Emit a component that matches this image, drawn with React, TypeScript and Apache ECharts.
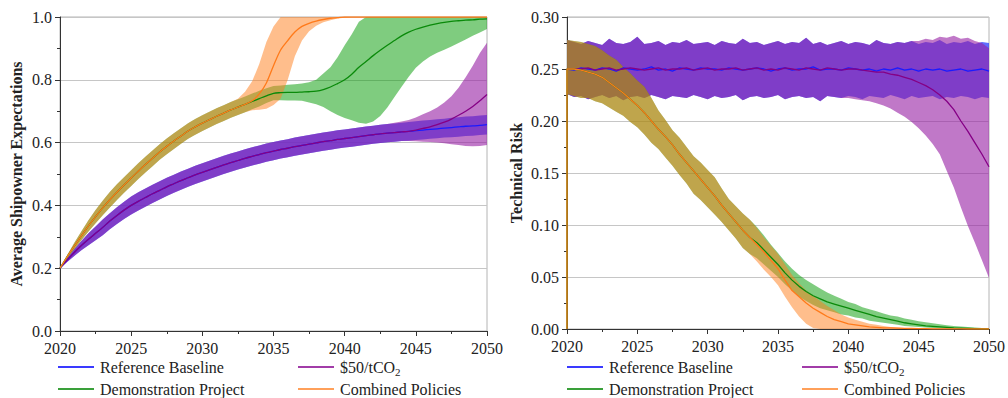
import React, { useEffect, useRef } from 'react';
import * as echarts from 'echarts';

// ---------- categories / names ----------
const BASELINE = 'Reference Baseline';
const CARBON = '$50/tCO2';
const DEMO = 'Demonstration Project';
const COMBINED = 'Combined Policies';
const NAMES = [BASELINE, CARBON, DEMO, COMBINED];

// ---------- x values (years) ----------
const X_L = [
  2020, 2020.5, 2021, 2021.5, 2022, 2022.5, 2023, 2023.5, 2024, 2024.5,
  2025, 2025.5, 2026, 2026.5, 2027, 2027.5, 2028, 2028.5, 2029, 2029.5,
  2030, 2030.5, 2031, 2031.5, 2032, 2032.5, 2033, 2033.5, 2034, 2034.5,
  2035, 2035.5, 2036, 2036.5, 2037, 2037.5, 2038, 2038.5, 2039, 2039.5,
  2040, 2040.5, 2041, 2041.5, 2042, 2042.5, 2043, 2043.5, 2044, 2044.5,
  2045, 2045.5, 2046, 2046.5, 2047, 2047.5, 2048, 2048.5, 2049, 2049.5,
  2050,
];
const X_R = [2020, ...X_L];

// ---------- left panel: Average Shipowner Expectations ----------
const BASE_MEAN_L = [
  0.200, 0.226, 0.250, 0.272, 0.292, 0.311, 0.330, 0.350, 0.368, 0.385,
  0.400, 0.413, 0.425, 0.437, 0.448, 0.459, 0.469, 0.479, 0.488, 0.497,
  0.505, 0.513, 0.521, 0.529, 0.536, 0.543, 0.550, 0.556, 0.562, 0.568,
  0.573, 0.578, 0.582, 0.587, 0.591, 0.595, 0.599, 0.603, 0.606, 0.610,
  0.613, 0.616, 0.619, 0.622, 0.625, 0.628, 0.630, 0.632, 0.634, 0.636,
  0.638, 0.640, 0.642, 0.644, 0.646, 0.648, 0.650, 0.652, 0.653, 0.655,
  0.657,
];
const BASE_HI_L = [
  0.200, 0.232, 0.261, 0.287, 0.311, 0.333, 0.355, 0.375, 0.394, 0.412,
  0.428, 0.442, 0.454, 0.466, 0.477, 0.488, 0.498, 0.508, 0.517, 0.526,
  0.534, 0.542, 0.550, 0.558, 0.565, 0.572, 0.579, 0.585, 0.591, 0.597,
  0.602, 0.607, 0.611, 0.616, 0.620, 0.624, 0.628, 0.632, 0.635, 0.639,
  0.642, 0.645, 0.648, 0.651, 0.654, 0.657, 0.659, 0.661, 0.663, 0.666,
  0.668, 0.670, 0.672, 0.674, 0.676, 0.679, 0.681, 0.683, 0.684, 0.686,
  0.688,
];
const BASE_LO_L = [
  0.200, 0.220, 0.239, 0.257, 0.273, 0.289, 0.305, 0.324, 0.341, 0.357,
  0.371, 0.384, 0.396, 0.408, 0.419, 0.430, 0.440, 0.450, 0.459, 0.468,
  0.476, 0.484, 0.492, 0.500, 0.507, 0.514, 0.521, 0.527, 0.533, 0.539,
  0.544, 0.549, 0.553, 0.558, 0.562, 0.566, 0.570, 0.574, 0.577, 0.581,
  0.584, 0.587, 0.590, 0.593, 0.596, 0.599, 0.601, 0.603, 0.605, 0.606,
  0.608, 0.610, 0.612, 0.614, 0.616, 0.617, 0.619, 0.621, 0.622, 0.624,
  0.626,
];
const CARBON_MEAN_L = [
  0.200, 0.226, 0.250, 0.272, 0.292, 0.311, 0.330, 0.350, 0.368, 0.385,
  0.400, 0.413, 0.425, 0.437, 0.448, 0.459, 0.469, 0.479, 0.488, 0.497,
  0.505, 0.513, 0.521, 0.529, 0.536, 0.543, 0.550, 0.556, 0.562, 0.568,
  0.573, 0.578, 0.582, 0.587, 0.591, 0.595, 0.599, 0.603, 0.606, 0.610,
  0.613, 0.616, 0.619, 0.622, 0.625, 0.628, 0.630, 0.632, 0.634, 0.636,
  0.640, 0.645, 0.650, 0.657, 0.665, 0.675, 0.687, 0.700, 0.715, 0.733,
  0.753,
];
const CARBON_HI_L = [
  0.200, 0.232, 0.261, 0.287, 0.311, 0.333, 0.355, 0.375, 0.394, 0.412,
  0.428, 0.442, 0.454, 0.466, 0.477, 0.488, 0.498, 0.508, 0.517, 0.526,
  0.534, 0.542, 0.550, 0.558, 0.565, 0.572, 0.579, 0.585, 0.591, 0.597,
  0.602, 0.607, 0.611, 0.616, 0.620, 0.624, 0.628, 0.632, 0.635, 0.639,
  0.642, 0.645, 0.648, 0.651, 0.654, 0.657, 0.659, 0.663, 0.667, 0.672,
  0.680, 0.690, 0.700, 0.712, 0.728, 0.748, 0.775, 0.808, 0.845, 0.885,
  0.918,
];
const CARBON_LO_L = [
  0.200, 0.220, 0.239, 0.257, 0.273, 0.289, 0.305, 0.324, 0.341, 0.357,
  0.371, 0.384, 0.396, 0.408, 0.419, 0.430, 0.440, 0.450, 0.459, 0.468,
  0.476, 0.484, 0.492, 0.500, 0.507, 0.514, 0.521, 0.527, 0.533, 0.539,
  0.544, 0.549, 0.553, 0.558, 0.562, 0.566, 0.570, 0.574, 0.577, 0.581,
  0.584, 0.587, 0.590, 0.593, 0.596, 0.599, 0.601, 0.603, 0.605, 0.605,
  0.604, 0.603, 0.602, 0.600, 0.598, 0.595, 0.592, 0.589, 0.588, 0.589,
  0.592,
];
const DEMO_MEAN_L = [
  0.200, 0.236, 0.270, 0.303, 0.335, 0.364, 0.392, 0.418, 0.442, 0.465,
  0.487, 0.509, 0.530, 0.550, 0.570, 0.588, 0.605, 0.621, 0.637, 0.650,
  0.662, 0.673, 0.684, 0.694, 0.704, 0.713, 0.722, 0.731, 0.740, 0.749,
  0.757, 0.759, 0.760, 0.760, 0.761, 0.762, 0.764, 0.769, 0.777, 0.788,
  0.800, 0.818, 0.840, 0.858, 0.877, 0.894, 0.910, 0.925, 0.940, 0.952,
  0.961, 0.968, 0.974, 0.979, 0.983, 0.986, 0.988, 0.990, 0.991, 0.993,
  0.994,
];
const DEMO_HI_L = [
  0.200, 0.241, 0.280, 0.317, 0.353, 0.385, 0.415, 0.443, 0.467, 0.490,
  0.512, 0.534, 0.555, 0.575, 0.595, 0.613, 0.630, 0.646, 0.662, 0.675,
  0.687, 0.698, 0.709, 0.719, 0.729, 0.738, 0.747, 0.756, 0.765, 0.773,
  0.780, 0.782, 0.784, 0.786, 0.788, 0.792, 0.800, 0.820, 0.840, 0.872,
  0.910, 0.945, 0.985, 1.000, 1.000, 1.000, 1.000, 1.000, 1.000, 1.000,
  1.000, 1.000, 1.000, 1.000, 1.000, 1.000, 1.000, 1.000, 1.000, 1.000,
  1.000,
];
const DEMO_LO_L = [
  0.200, 0.231, 0.260, 0.289, 0.317, 0.343, 0.369, 0.393, 0.417, 0.440,
  0.462, 0.484, 0.505, 0.525, 0.545, 0.563, 0.580, 0.596, 0.612, 0.625,
  0.637, 0.648, 0.659, 0.669, 0.679, 0.688, 0.697, 0.706, 0.715, 0.726,
  0.735, 0.735, 0.734, 0.734, 0.733, 0.728, 0.722, 0.713, 0.700, 0.688,
  0.678, 0.671, 0.663, 0.660, 0.667, 0.685, 0.712, 0.745, 0.778, 0.810,
  0.838, 0.858, 0.874, 0.886, 0.896, 0.906, 0.917, 0.928, 0.940, 0.951,
  0.962,
];
const COMBINED_MEAN_L = [
  0.200, 0.236, 0.270, 0.303, 0.335, 0.364, 0.392, 0.418, 0.442, 0.465,
  0.487, 0.509, 0.530, 0.550, 0.570, 0.588, 0.605, 0.621, 0.637, 0.650,
  0.662, 0.673, 0.684, 0.694, 0.704, 0.713, 0.722, 0.733, 0.755, 0.790,
  0.845, 0.895, 0.925, 0.952, 0.970, 0.980, 0.987, 0.992, 0.996, 0.998,
  1.000, 1.000, 1.000, 1.000, 1.000, 1.000, 1.000, 1.000, 1.000, 1.000,
  1.000, 1.000, 1.000, 1.000, 1.000, 1.000, 1.000, 1.000, 1.000, 1.000,
  1.000,
];
const COMBINED_HI_L = [
  0.200, 0.241, 0.280, 0.317, 0.353, 0.385, 0.415, 0.443, 0.467, 0.490,
  0.512, 0.534, 0.555, 0.575, 0.595, 0.613, 0.630, 0.646, 0.662, 0.675,
  0.687, 0.698, 0.709, 0.719, 0.729, 0.740, 0.762, 0.795, 0.850, 0.920,
  0.970, 1.000, 1.000, 1.000, 1.000, 1.000, 1.000, 1.000, 1.000, 1.000,
  1.000, 1.000, 1.000, 1.000, 1.000, 1.000, 1.000, 1.000, 1.000, 1.000,
  1.000, 1.000, 1.000, 1.000, 1.000, 1.000, 1.000, 1.000, 1.000, 1.000,
  1.000,
];
const COMBINED_LO_L = [
  0.200, 0.231, 0.260, 0.289, 0.317, 0.343, 0.369, 0.393, 0.417, 0.440,
  0.462, 0.484, 0.505, 0.525, 0.545, 0.563, 0.580, 0.596, 0.612, 0.625,
  0.637, 0.648, 0.659, 0.669, 0.679, 0.688, 0.697, 0.703, 0.705, 0.708,
  0.720, 0.740, 0.800, 0.875, 0.925, 0.955, 0.972, 0.983, 0.990, 0.995,
  0.998, 1.000, 1.000, 1.000, 1.000, 1.000, 1.000, 1.000, 1.000, 1.000,
  1.000, 1.000, 1.000, 1.000, 1.000, 1.000, 1.000, 1.000, 1.000, 1.000,
  1.000,
];

// ---------- right panel: Technical Risk ----------
const BASE_MEAN_R = [
  0.250,
  0.250, 0.249, 0.251, 0.250, 0.249, 0.251, 0.250, 0.248, 0.251, 0.250,
  0.249, 0.250, 0.252, 0.249, 0.250, 0.248, 0.251, 0.250, 0.249, 0.251,
  0.250, 0.250, 0.249, 0.251, 0.250, 0.249, 0.250, 0.251, 0.250, 0.248,
  0.250, 0.251, 0.249, 0.250, 0.250, 0.252, 0.249, 0.250, 0.250, 0.249,
  0.251, 0.250, 0.249, 0.250, 0.248, 0.250, 0.249, 0.251, 0.249, 0.250,
  0.248, 0.250, 0.249, 0.250, 0.248, 0.249, 0.250, 0.248, 0.249, 0.250,
  0.248,
];
const BASE_HI_R = [
  0.278,
  0.278, 0.276, 0.274, 0.277, 0.275, 0.273, 0.279, 0.275, 0.274, 0.276,
  0.281, 0.274, 0.275, 0.277, 0.273, 0.276, 0.275, 0.278, 0.274, 0.275,
  0.276, 0.273, 0.277, 0.275, 0.274, 0.279, 0.275, 0.276, 0.273, 0.275,
  0.277, 0.274, 0.276, 0.275, 0.280, 0.274, 0.276, 0.273, 0.275, 0.277,
  0.274, 0.276, 0.275, 0.273, 0.278, 0.275, 0.274, 0.276, 0.275, 0.277,
  0.274, 0.276, 0.275, 0.278, 0.274, 0.276, 0.275, 0.277, 0.274, 0.276,
  0.275,
];
const BASE_LO_R = [
  0.226,
  0.226, 0.223, 0.224, 0.221, 0.223, 0.225, 0.222, 0.224, 0.220, 0.223,
  0.224, 0.222, 0.225, 0.223, 0.221, 0.224, 0.223, 0.222, 0.225, 0.223,
  0.221, 0.224, 0.222, 0.223, 0.225, 0.220, 0.223, 0.224, 0.222, 0.223,
  0.225, 0.221, 0.223, 0.224, 0.222, 0.223, 0.219, 0.224, 0.223, 0.222,
  0.224, 0.223, 0.221, 0.224, 0.223, 0.222, 0.225, 0.223, 0.221, 0.224,
  0.222, 0.223, 0.224, 0.221, 0.223, 0.222, 0.224, 0.223, 0.221, 0.223,
  0.222,
];
const CARBON_MEAN_R = [
  0.250,
  0.250, 0.250, 0.250, 0.251, 0.249, 0.250, 0.251, 0.249, 0.250, 0.251,
  0.250, 0.249, 0.250, 0.251, 0.249, 0.250, 0.250, 0.251, 0.249, 0.250,
  0.251, 0.249, 0.250, 0.250, 0.251, 0.249, 0.250, 0.251, 0.249, 0.250,
  0.249, 0.251, 0.250, 0.249, 0.251, 0.250, 0.249, 0.251, 0.250, 0.249,
  0.250, 0.250, 0.249, 0.248, 0.247, 0.247, 0.245, 0.244, 0.242, 0.240,
  0.237, 0.234, 0.230, 0.225, 0.219, 0.211, 0.200, 0.190, 0.179, 0.168,
  0.156,
];
const CARBON_HI_R = [
  0.278,
  0.278, 0.276, 0.274, 0.277, 0.275, 0.273, 0.279, 0.275, 0.274, 0.276,
  0.281, 0.274, 0.275, 0.277, 0.273, 0.276, 0.275, 0.278, 0.274, 0.275,
  0.276, 0.273, 0.277, 0.275, 0.274, 0.279, 0.275, 0.276, 0.273, 0.275,
  0.277, 0.274, 0.276, 0.275, 0.280, 0.274, 0.276, 0.273, 0.275, 0.277,
  0.274, 0.276, 0.275, 0.273, 0.278, 0.275, 0.274, 0.276, 0.275, 0.277,
  0.277, 0.279, 0.278, 0.281, 0.280, 0.282, 0.279, 0.280, 0.277, 0.275,
  0.270,
];
const CARBON_LO_R = [
  0.226,
  0.226, 0.223, 0.224, 0.221, 0.223, 0.225, 0.222, 0.224, 0.220, 0.223,
  0.224, 0.222, 0.225, 0.223, 0.221, 0.224, 0.223, 0.222, 0.225, 0.223,
  0.221, 0.224, 0.222, 0.223, 0.225, 0.220, 0.223, 0.224, 0.222, 0.223,
  0.225, 0.221, 0.223, 0.224, 0.222, 0.223, 0.219, 0.224, 0.223, 0.222,
  0.222, 0.221, 0.220, 0.219, 0.217, 0.215, 0.212, 0.208, 0.204, 0.199,
  0.193, 0.186, 0.178, 0.168, 0.152, 0.136, 0.117, 0.099, 0.083, 0.066,
  0.049,
];
const DEMO_MEAN_R = [
  0,
  0.250, 0.250, 0.249, 0.247, 0.245, 0.242, 0.237, 0.232, 0.227, 0.221,
  0.215, 0.208, 0.200, 0.192, 0.185, 0.177, 0.168, 0.160, 0.152, 0.144,
  0.136, 0.128, 0.119, 0.111, 0.103, 0.095, 0.088, 0.083, 0.076, 0.069,
  0.062, 0.054, 0.047, 0.041, 0.036, 0.032, 0.029, 0.026, 0.024, 0.022,
  0.020, 0.018, 0.016, 0.014, 0.012, 0.0105, 0.009, 0.0075, 0.006, 0.005,
  0.004, 0.003, 0.0025, 0.002, 0.0015, 0.001, 0.0008, 0.0006, 0.0004, 0.0002,
  0.0001,
];
const DEMO_HI_R = [
  0,
  0.278, 0.277, 0.276, 0.274, 0.272, 0.268, 0.263, 0.259, 0.252, 0.246,
  0.239, 0.233, 0.222, 0.210, 0.201, 0.191, 0.184, 0.175, 0.166, 0.160,
  0.153, 0.146, 0.135, 0.125, 0.118, 0.111, 0.105, 0.098, 0.090, 0.081,
  0.073, 0.065, 0.058, 0.052, 0.047, 0.043, 0.039, 0.035, 0.032, 0.029,
  0.026, 0.024, 0.021, 0.019, 0.017, 0.015, 0.013, 0.012, 0.010, 0.009,
  0.0075, 0.0065, 0.0055, 0.0045, 0.0035, 0.003, 0.0025, 0.002, 0.0015, 0.001,
  0.0005,
];
const DEMO_LO_R = [
  0,
  0.226, 0.224, 0.222, 0.222, 0.219, 0.217, 0.213, 0.209, 0.205, 0.199,
  0.194, 0.187, 0.179, 0.173, 0.165, 0.157, 0.148, 0.140, 0.130, 0.124,
  0.117, 0.110, 0.103, 0.095, 0.087, 0.078, 0.072, 0.068, 0.062, 0.056,
  0.050, 0.043, 0.037, 0.031, 0.027, 0.023, 0.020, 0.018, 0.016, 0.014,
  0.013, 0.011, 0.010, 0.008, 0.007, 0.006, 0.005, 0.004, 0.003, 0.0025,
  0.002, 0.0015, 0.001, 0.0008, 0.0006, 0.0004, 0.0003, 0.0002, 0.0001, 0,
  0,
];
const COMBINED_MEAN_R = [
  0,
  0.250, 0.250, 0.249, 0.247, 0.245, 0.242, 0.237, 0.232, 0.227, 0.221,
  0.215, 0.208, 0.200, 0.192, 0.185, 0.177, 0.168, 0.160, 0.152, 0.144,
  0.136, 0.128, 0.119, 0.111, 0.103, 0.095, 0.088, 0.081, 0.074, 0.066,
  0.058, 0.047, 0.037, 0.031, 0.025, 0.020, 0.016, 0.012, 0.009, 0.007,
  0.005, 0.004, 0.003, 0.002, 0.0015, 0.001, 0.001, 0.0008, 0.0006, 0.0005,
  0.0004, 0.0003, 0.0002, 0.0002, 0.0001, 0.0001, 0.0001, 0, 0, 0,
  0,
];
const COMBINED_HI_R = [
  0,
  0.278, 0.277, 0.276, 0.274, 0.272, 0.268, 0.263, 0.259, 0.252, 0.246,
  0.239, 0.233, 0.222, 0.210, 0.201, 0.191, 0.184, 0.175, 0.166, 0.160,
  0.153, 0.146, 0.135, 0.125, 0.118, 0.111, 0.105, 0.097, 0.088, 0.080,
  0.072, 0.062, 0.052, 0.044, 0.037, 0.032, 0.027, 0.022, 0.018, 0.014,
  0.011, 0.009, 0.007, 0.005, 0.004, 0.003, 0.002, 0.0015, 0.001, 0.0008,
  0.0006, 0.0005, 0.0004, 0.0003, 0.0002, 0.0002, 0.0001, 0.0001, 0, 0,
  0,
];
const COMBINED_LO_R = [
  0,
  0.226, 0.224, 0.222, 0.222, 0.219, 0.217, 0.213, 0.209, 0.205, 0.199,
  0.194, 0.187, 0.179, 0.173, 0.165, 0.157, 0.148, 0.140, 0.130, 0.124,
  0.117, 0.110, 0.103, 0.095, 0.087, 0.078, 0.072, 0.065, 0.057, 0.050,
  0.042, 0.031, 0.021, 0.012, 0.005, 0.001, 0, 0, 0, 0,
  0, 0, 0, 0, 0, 0, 0, 0, 0, 0,
  0, 0, 0, 0, 0, 0, 0, 0, 0, 0,
  0,
];

// ---------- tick labels ----------
const X_TICKS = [2020, 2025, 2030, 2035, 2040, 2045, 2050];
const Y_TICKS_L = ['0.0', '0.2', '0.4', '0.6', '0.8', '1.0'];
const Y_TICKS_R = ['0.00', '0.05', '0.10', '0.15', '0.20', '0.25', '0.30'];

// ---------- styles ----------
const SERIF = 'Liberation Serif';
const LINE_COLORS = ['#1a1aff', '#850085', '#0a8a0a', '#ff7a1a'];
const BAND_COLORS = [
  'rgba(40,60,255,0.75)',
  'rgba(150,30,163,0.6)',
  'rgba(0,153,0,0.5)',
  'rgba(255,125,25,0.5)',
];
const LEGEND_COLORS = ['#3a3aff', '#a23ca8', '#3aa03a', '#ffa05a'];

function bandSeries(xs: number[], lo: number[], hi: number[], color: string, axis: number) {
  return {
    type: 'custom',
    xAxisIndex: axis,
    yAxisIndex: axis,
    silent: true,
    z: 2,
    data: xs.map((x, i) => [x, lo[i], hi[i]]),
    encode: { x: 0, y: [1, 2] },
    renderItem: (params: any, api: any) => {
      if (params.dataIndex !== 0) return null;
      const pts: number[][] = [];
      for (let i = 0; i < xs.length; i++) pts.push(api.coord([xs[i], hi[i]]));
      for (let i = xs.length - 1; i >= 0; i--) pts.push(api.coord([xs[i], lo[i]]));
      return { type: 'polygon', shape: { points: pts }, style: { fill: color, stroke: 'none' } };
    },
  };
}

function lineSeries(name: string, xs: number[], ys: number[], color: string, axis: number, smooth: number) {
  return {
    type: 'line',
    name,
    xAxisIndex: axis,
    yAxisIndex: axis,
    silent: true,
    z: 2,
    data: xs.map((x, i) => [x, ys[i]]),
    showSymbol: false,
    symbol: 'none',
    smooth,
    lineStyle: { color, width: 1.3 },
    itemStyle: { color },
  };
}

function xAxis(gridIndex: number) {
  return {
    type: 'value',
    gridIndex,
    min: X_TICKS[0],
    max: X_TICKS[X_TICKS.length - 1],
    interval: 5,
    axisLine: { show: true, onZero: false, lineStyle: { color: '#333', width: 1 } },
    axisTick: { show: true, length: 5, lineStyle: { color: '#333' } },
    minorTick: { show: true, splitNumber: 2, length: 3, lineStyle: { color: '#333' } },
    splitLine: { show: false },
    axisLabel: {
      fontFamily: SERIF, fontSize: 16, color: '#222', margin: 9,
      formatter: (v: number) => String(v),
    },
  };
}

function yAxis(gridIndex: number, ticks: string[], interval: number, name: string, nameGap: number) {
  return {
    type: 'value',
    gridIndex,
    min: 0,
    max: Number(ticks[ticks.length - 1]),
    interval,
    name,
    nameLocation: 'middle',
    nameGap,
    nameTextStyle: { fontFamily: SERIF, fontSize: 16, fontWeight: 'bold', color: '#222' },
    axisLine: { show: true, onZero: false, lineStyle: { color: '#333', width: 1 } },
    axisTick: { show: true, length: 5, lineStyle: { color: '#333' } },
    minorTick: { show: true, splitNumber: 2, length: 3, lineStyle: { color: '#333' } },
    splitLine: { show: true, lineStyle: { color: '#c6c6c6', width: 1 } },
    axisLabel: {
      fontFamily: SERIF, fontSize: 16, color: '#222', margin: 8,
      formatter: (v: number) => ticks[Math.round(v / interval)] ?? '',
    },
  };
}

function legends(positions: number[][]) {
  return NAMES.map((n, i) => ({
    data: [{ name: n, itemStyle: { color: LEGEND_COLORS[i] } }],
    left: positions[i][0],
    top: positions[i][1],
    padding: 0,
    itemWidth: 36,
    itemHeight: 2,
    itemGap: 0,
    icon: 'rect',
    selectedMode: false,
    formatter: (name: string) => (name === CARBON ? '$50/tCO{sub|2}' : name),
    textStyle: {
      fontFamily: SERIF, fontSize: 16, color: '#222', padding: [0, 0, 0, 1],
      rich: { sub: { fontFamily: SERIF, fontSize: 11, color: '#222', padding: [9, 0, 0, 0] } },
    },
  }));
}

export default function App() {
  const ref = useRef<HTMLDivElement>(null);
  useEffect(() => {
    const chart = echarts.init(ref.current as HTMLDivElement, null, { renderer: 'svg' });
    const leftSets = [
      [BASE_MEAN_L, BASE_LO_L, BASE_HI_L],
      [CARBON_MEAN_L, CARBON_LO_L, CARBON_HI_L],
      [DEMO_MEAN_L, DEMO_LO_L, DEMO_HI_L],
      [COMBINED_MEAN_L, COMBINED_LO_L, COMBINED_HI_L],
    ];
    const rightSets = [
      [BASE_MEAN_R, BASE_LO_R, BASE_HI_R],
      [CARBON_MEAN_R, CARBON_LO_R, CARBON_HI_R],
      [DEMO_MEAN_R, DEMO_LO_R, DEMO_HI_R],
      [COMBINED_MEAN_R, COMBINED_LO_R, COMBINED_HI_R],
    ];
    const series: any[] = [];
    leftSets.forEach((s, i) => {
      series.push(bandSeries(X_L, s[1], s[2], BAND_COLORS[i], 0));
      series.push(lineSeries(NAMES[i], X_L, s[0], LINE_COLORS[i], 0, 0.3));
    });
    rightSets.forEach((s, i) => {
      series.push(bandSeries(X_R, s[1], s[2], BAND_COLORS[i], 1));
      series.push(lineSeries(NAMES[i], X_R, s[0], LINE_COLORS[i], 1, 0));
    });
    chart.setOption({
      animation: false,
      backgroundColor: '#fff',
      textStyle: { fontFamily: SERIF },
      grid: [
        { left: 60, top: 17, width: 427, height: 314, show: true, borderColor: '#b4b4b4', borderWidth: 1, backgroundColor: 'transparent' },
        { left: 567, top: 17, width: 424, height: 312, show: true, borderColor: '#b4b4b4', borderWidth: 1, backgroundColor: 'transparent' },
      ],
      xAxis: [xAxis(0), xAxis(1)],
      yAxis: [
        yAxis(0, Y_TICKS_L, 0.2, 'Average Shipowner Expectations', 36),
        yAxis(1, Y_TICKS_R, 0.05, 'Technical Risk', 43),
      ],
      legend: [
        ...legends([[58, 359], [298, 359], [58, 381], [298, 381]]),
        ...legends([[567, 359], [802, 359], [567, 381], [802, 381]]),
      ],
      series,
    });
    return () => chart.dispose();
  }, []);
  return (
    <div
      ref={ref}
      style={{ position: 'fixed', left: 0, top: 0, width: 1008, height: 398, background: '#fff' }}
    />
  );
}
